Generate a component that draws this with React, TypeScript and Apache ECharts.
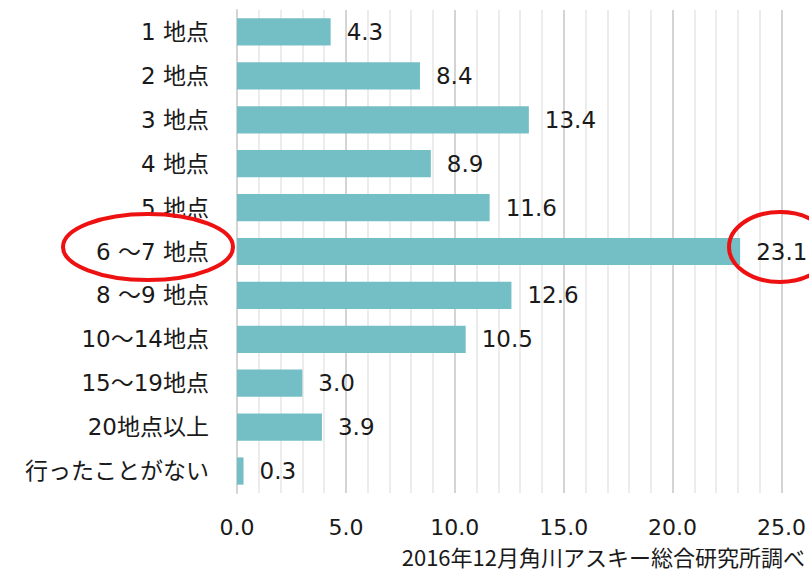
import React, { useEffect, useRef } from "react";
import * as echarts from "echarts";

const categories = [
  "1 地点",
  "2 地点",
  "3 地点",
  "4 地点",
  "5 地点",
  "6 ～7 地点",
  "8 ～9 地点",
  "10～14地点",
  "15～19地点",
  "20地点以上",
  "行ったことがない",
];
const values = [4.3, 8.4, 13.4, 8.9, 11.6, 23.1, 12.6, 10.5, 3.0, 3.9, 0.3];
const axisMin = 0;
const axisMax = 25;
const axisInterval = 5;
const sourceNote = "2016年12月角川アスキー総合研究所調べ";

const FONT = "'DejaVu Sans', 'Noto Sans CJK JP', sans-serif";
const CJK = "'Noto Sans CJK JP', 'DejaVu Sans', sans-serif";

export default function App() {
  const ref = useRef<HTMLDivElement>(null);
  useEffect(() => {
    if (!ref.current) return;
    const chart = echarts.init(ref.current, null, { renderer: "svg" });
    chart.setOption({
      animation: false,
      backgroundColor: "#ffffff",
      grid: { left: 237, right: 26, top: 10, bottom: 81, containLabel: false },
      xAxis: {
        type: "value",
        min: axisMin,
        max: axisMax,
        interval: axisInterval,
        axisLine: { show: false },
        axisTick: { show: false },
        axisLabel: {
          color: "#1a1a1a",
          fontSize: 22,
          fontFamily: FONT,
          margin: 23,
          formatter: (v: number) => v.toFixed(1),
        },
        splitLine: { show: true, lineStyle: { color: "#d4d4d4", width: 2 } },
        minorTick: { show: false, splitNumber: 5 },
        minorSplitLine: { show: true, lineStyle: { color: "#ececec", width: 2 } },
      },
      yAxis: {
        type: "category",
        data: categories,
        inverse: true,
        axisLine: { show: true, lineStyle: { color: "#d4d4d4", width: 2 } },
        axisTick: { show: false },
        axisLabel: {
          color: "#1a1a1a",
          fontSize: 23,
          fontFamily: FONT,
          margin: 28,
        },
        splitLine: { show: false },
      },
      series: [
        {
          type: "bar",
          data: values,
          barCategoryGap: "38%",
          itemStyle: { color: "#74bfc5" },
          label: {
            show: true,
            position: "right",
            distance: 16,
            color: "#1a1a1a",
            fontSize: 23,
            fontFamily: FONT,
            formatter: (p: any) => Number(p.value).toFixed(1),
          },
        },
      ],
      graphic: [
        {
          type: "ellipse",
          shape: { cx: 148, cy: 247, rx: 85, ry: 33 },
          style: { fill: "none", stroke: "#ee1111", lineWidth: 4 },
          z: 100,
        },
        {
          type: "ellipse",
          shape: { cx: 780, cy: 247, rx: 51, ry: 35 },
          style: { fill: "none", stroke: "#ee1111", lineWidth: 4 },
          z: 100,
        },
        {
          type: "text",
          right: 4,
          top: 545,
          style: {
            text: sourceNote,
            fill: "#1a1a1a",
            fontSize: 22,
            fontFamily: CJK,
          },
        },
      ],
    });
    return () => chart.dispose();
  }, []);
  return (
    <div
      ref={ref}
      style={{ position: "absolute", left: 0, top: 0, width: 809, height: 574 }}
    />
  );
}
